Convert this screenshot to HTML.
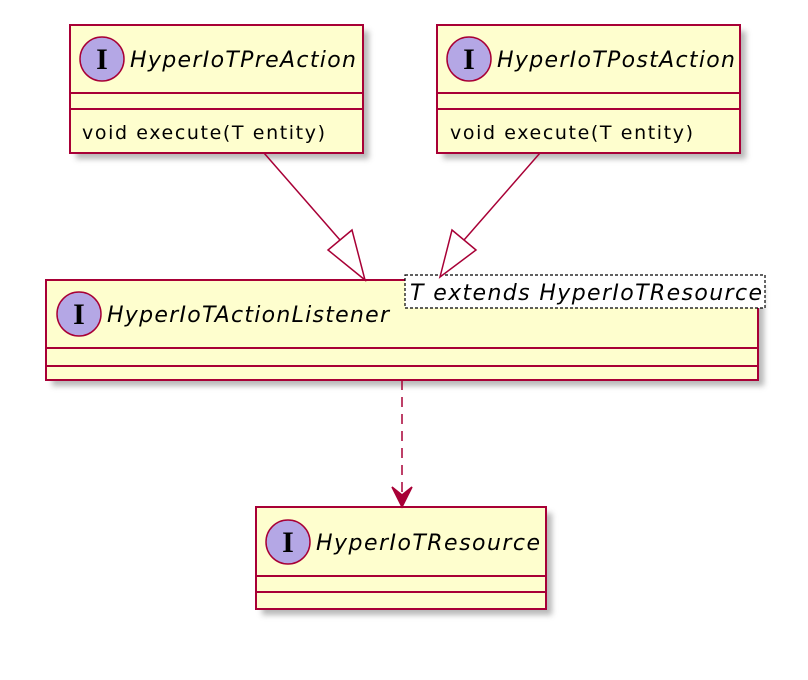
<!DOCTYPE html>
<html><head><meta charset="utf-8"><style>
html,body{margin:0;padding:0;background:#fff;width:808px;height:680px;overflow:hidden}
text{font-family:"DejaVu Sans","Liberation Sans",sans-serif}
</style></head><body>
<svg width="808" height="680" viewBox="0 0 808 680" xmlns="http://www.w3.org/2000/svg">
<defs><filter id="sh" x="-10%" y="-10%" width="130%" height="140%"><feGaussianBlur stdDeviation="3"/></filter></defs>
<g fill="#888" opacity="0.6" filter="url(#sh)">
<rect x="76" y="31" width="293" height="128"/>
<rect x="443" y="31" width="303" height="128"/>
<rect x="52" y="286" width="712" height="100"/>
<rect x="262" y="513" width="290" height="102"/>
</g>
<g stroke="#a80036" stroke-width="2" fill="#fefece">
<rect x="70" y="25" width="293" height="128"/>
<line x1="70" y1="93" x2="363" y2="93"/><line x1="70" y1="109" x2="363" y2="109"/>
<rect x="437" y="25" width="303" height="128"/>
<line x1="437" y1="93" x2="740" y2="93"/><line x1="437" y1="109" x2="740" y2="109"/>
<rect x="46" y="280" width="712" height="100"/>
<line x1="46" y1="348" x2="758" y2="348"/><line x1="46" y1="366" x2="758" y2="366"/>
<rect x="256" y="507" width="290" height="102"/>
<line x1="256" y1="576" x2="546" y2="576"/><line x1="256" y1="592" x2="546" y2="592"/>
</g>
<rect x="405" y="275" width="360" height="33" fill="#fff" stroke="#000" stroke-width="1.2" stroke-dasharray="3,2"/>
<g fill="#b4a7e5" stroke="#a80036" stroke-width="1.5">
<circle cx="102" cy="59" r="22"/><circle cx="469" cy="59" r="22"/>
<circle cx="79" cy="314" r="22"/><circle cx="288" cy="542" r="22"/>
</g>
<g font-weight="bold" font-size="30" text-anchor="middle" fill="#000">
<text x="102" y="69" style="font-family:'Liberation Serif',serif">I</text>
<text x="469" y="69" style="font-family:'Liberation Serif',serif">I</text>
<text x="79" y="324" style="font-family:'Liberation Serif',serif">I</text>
<text x="288" y="552" style="font-family:'Liberation Serif',serif">I</text>
</g>
<g font-style="italic" font-size="22" fill="#000">
<text x="130" y="67" textLength="226">HyperIoTPreAction</text>
<text x="497" y="67" textLength="238">HyperIoTPostAction</text>
<text x="107" y="322" textLength="282">HyperIoTActionListener</text>
<text x="316" y="550" textLength="224">HyperIoTResource</text>
<text x="410" y="300" textLength="352">T extends HyperIoTResource</text>
</g>
<g font-size="19" fill="#000">
<text x="82" y="139" textLength="243">void execute(T entity)</text>
<text x="450" y="139" textLength="243">void execute(T entity)</text>
</g>
<g stroke="#a80036" stroke-width="1.5" fill="none">
<line x1="264" y1="153" x2="340" y2="240"/>
<polygon points="365,280 328,250 352,230" fill="#fff"/>
<line x1="540" y1="153" x2="464" y2="240"/>
<polygon points="440,277 452,230 476,250" fill="#fff"/>
<line x1="402" y1="380" x2="402" y2="500" stroke-dasharray="10,7"/>
<polygon points="392,487 402,507 412,487 402,495" fill="#a80036"/>
</g>
</svg>
</body></html>
